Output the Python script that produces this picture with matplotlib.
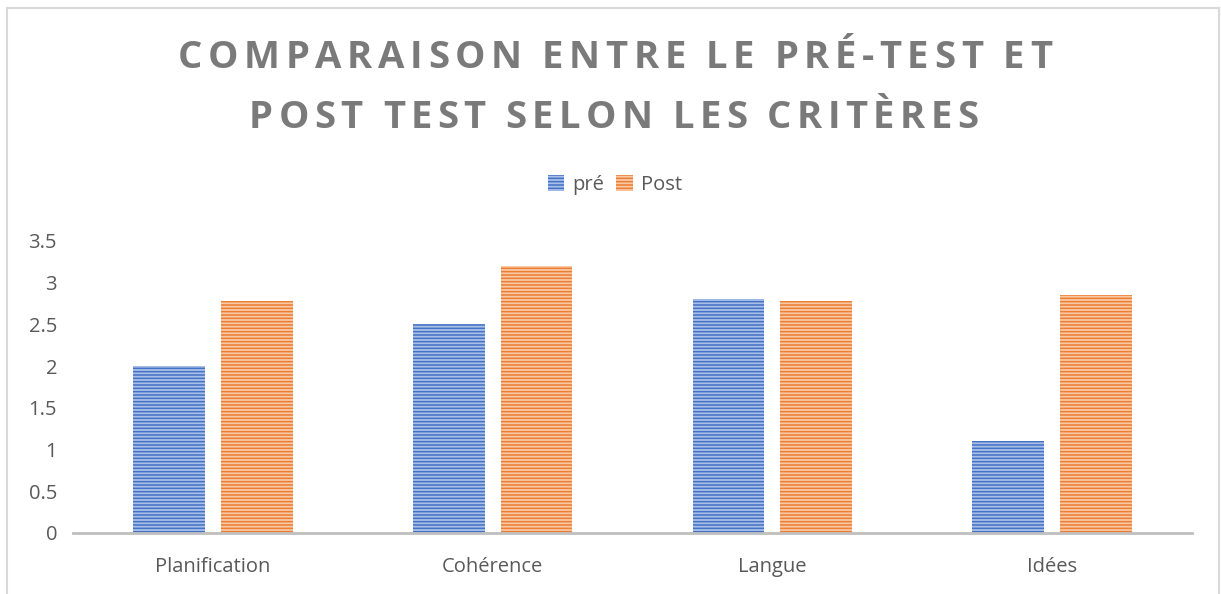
import numpy as np
import matplotlib.pyplot as plt
from matplotlib.lines import Line2D

# Data
categories = ['Planification', 'Cohérence', 'Langue', 'Idées']
pre_values = [2.0, 2.5, 2.8, 1.1]
post_values = [2.78, 3.2, 2.78, 2.85]
y_ticks = [0, 0.5, 1, 1.5, 2, 2.5, 3, 3.5]
y_tick_labels = ['0', '0.5', '1', '1.5', '2', '2.5', '3', '3.5']
title_lines = ['COMPARAISON ENTRE LE PRÉ-TEST ET', 'POST TEST SELON LES CRITÈRES']

W, H = 1221, 594
plt.rcParams['font.family'] = ['Open Sans', 'DejaVu Sans']
plt.rcParams['hatch.linewidth'] = 1.1

fig = plt.figure(figsize=(W / 100, H / 100), dpi=100)
ax = fig.add_axes([73 / W, 61 / H, 1119 / W, 292 / H])

x = np.arange(len(categories))
width = 0.257
gap = 0.057
ax.bar(x - (width + gap) / 2, pre_values, width, color='#a9bfe8', edgecolor='#4472C4',
       linewidth=0, hatch='-----', label='pré')
ax.bar(x + (width + gap) / 2, post_values, width, color='#f8c9a6', edgecolor='#ED7D31',
       linewidth=0, hatch='-----', label='Post')

ax.set_xlim(-0.5, len(categories) - 0.5)
ax.set_ylim(0, 3.5)
ax.set_yticks(y_ticks)
ax.set_yticklabels(y_tick_labels)
ax.set_xticks(x)
ax.set_xticklabels(categories)
ax.tick_params(axis='both', length=0, labelsize=14.5, labelcolor='#595959')
ax.tick_params(axis='x', pad=17)
ax.tick_params(axis='y', pad=11.5)
for s in ['top', 'right', 'left']:
    ax.spines[s].set_visible(False)
ax.spines['bottom'].set_color('#bfbfbf')
ax.spines['bottom'].set_linewidth(2)

# Title with letter spacing, drawn char by char
renderer = fig.canvas.get_renderer()
title_kw = dict(fontsize=27.5, fontweight='bold', color='#7a7a7a', va='baseline', ha='left')
word_gap = 20
# (text, baseline y px, left px, right px) as measured on the picture
for line, base, left, right in zip(title_lines, [68, 128], [178, 249], [1052, 978]):
    widths = []
    for ch in line:
        if ch == ' ':
            widths.append(0)
            continue
        t = fig.text(0, 0, ch, **title_kw)
        widths.append(t.get_window_extent(renderer).width)
        t.remove()
    n_space = line.count(' ')
    n_inner = len(line) - 1 - 2 * n_space
    spacing = (right - left - sum(widths) - word_gap * n_space) / n_inner
    xp = left
    prev_space = False
    for i, (ch, w) in enumerate(zip(line, widths)):
        if ch == ' ':
            xp += word_gap
            prev_space = True
            continue
        if i > 0 and not prev_space:
            xp += spacing
        fig.text(xp / W, 1 - base / H, ch, **title_kw)
        xp += w
        prev_space = False

ax.legend(loc='center', bbox_to_anchor=(615 / W, 1 - 185 / H), bbox_transform=fig.transFigure,
          ncol=2, frameon=False, fontsize=14.5, labelcolor='#595959',
          handlelength=0.8, handleheight=0.8, handletextpad=0.4, columnspacing=0.6)

# Chart area border (top, left, right)
border = '#d9d9d9'
fig.add_artist(Line2D([7 / W, 1219 / W], [1 - 8 / H, 1 - 8 / H], color=border, lw=1.5))
fig.add_artist(Line2D([7 / W, 7 / W], [0, 1 - 8 / H], color=border, lw=1.5))
fig.add_artist(Line2D([1219 / W, 1219 / W], [0, 1 - 8 / H], color=border, lw=1.5))

fig.savefig('out.png', dpi=100)
